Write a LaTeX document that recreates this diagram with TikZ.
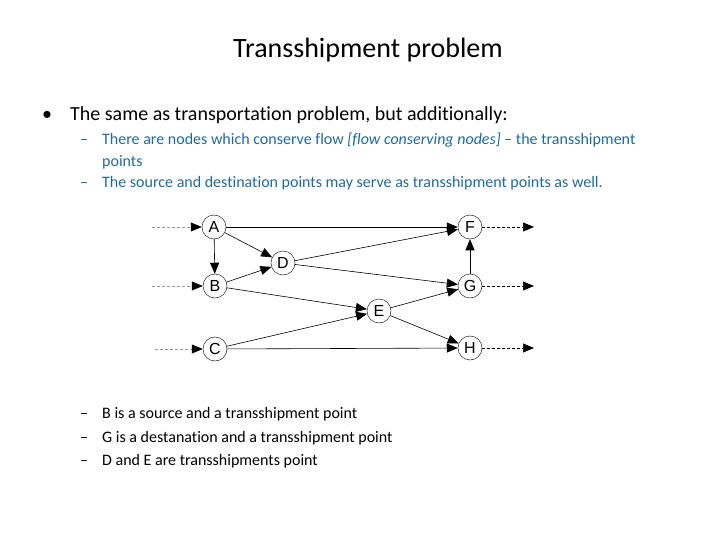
\documentclass[tikz,border=0pt]{standalone}
\usepackage{fontspec}
\setmainfont{Carlito}[Ligatures=NoCommon]
\newfontfamily\nodefont{Liberation Sans}
\usetikzlibrary{arrows.meta}
\definecolor{subblue}{RGB}{31,106,156}
\begin{document}
\begin{tikzpicture}[x=1pt,y=-1pt,
  nd/.style={circle,draw=black!85,line width=0.5pt,minimum size=24pt,inner sep=0pt,
    font=\nodefont\fontsize{16}{16}\selectfont},
  ar/.style={draw=black,line width=0.6pt,-{Triangle[length=11pt,width=9pt]}},
  inar/.style={draw=black!40,line width=0.6pt,dash pattern=on 3pt off 2pt,
    -{Triangle[length=11pt,width=9pt,color=black]}},
  outar/.style={draw=black,line width=0.6pt,dash pattern=on 3pt off 2pt,
    -{Triangle[length=11pt,width=9pt,color=black]}},
  txt/.style={anchor=base west,inner sep=0pt},
  ttl/.style={anchor=base,inner sep=0pt,font=\fontsize{28}{32}\selectfont},
  lone/.style={txt,font=\fontsize{20}{24}\selectfont},
  ltwo/.style={txt,font=\fontsize{16}{19}\selectfont},
]
\useasboundingbox (0,0) rectangle (720,540);

% text
\node[ttl] (title) at (368,58) {Transshipment problem};
\node[lone,anchor=base] (b1) at (47,121) {•};
\node[lone] (t1) at (70,121) {The same as transportation problem, but additionally:};
\node[ltwo,text=subblue] (d1) at (80,145) {–};
\node[ltwo,text=subblue] (t2) at (102,145) {There are nodes which conserve flow \textit{[flow conserving nodes]} – the transshipment};
\node[ltwo,text=subblue] (t2b) at (102,167) {points};
\node[ltwo,text=subblue] (d2) at (80,188) {–};
\node[ltwo,text=subblue] (t3) at (102,188) {The source and destination points may serve as transshipment points as well.};
\node[ltwo] (d3) at (80,418) {–};
\node[ltwo] (t4) at (102,418) {B is a source and a transshipment point};
\node[ltwo] (d4) at (80,442) {–};
\node[ltwo] (t5) at (102,442) {G is a destanation and a transshipment point};
\node[ltwo] (d5) at (80,465) {–};
\node[ltwo] (t6) at (102,465) {D and E are transshipments point};

% graph nodes
\node[nd] (A) at (214,227) {A};
\node[nd] (B) at (215,286) {B};
\node[nd] (C) at (215,349) {C};
\node[nd] (D) at (283,263) {D};
\node[nd] (E) at (379,311) {E};
\node[nd] (F) at (470,227) {F};
\node[nd] (G) at (470,286) {G};
\node[nd] (H) at (470,348) {H};

\coordinate (iA) at (152,227);
\coordinate (iB) at (152,286);
\coordinate (iC) at (155,349);
\coordinate (oF) at (534,227);
\coordinate (oG) at (534,286);
\coordinate (oH) at (534,348);

\draw[inar] (iA) -- (A);
\draw[inar] (iB) -- (B);
\draw[inar] (iC) -- (C);
\draw[outar] (F) -- (oF);
\draw[outar] (G) -- (oG);
\draw[outar] (H) -- (oH);

\draw[ar] (A) -- (F);
\draw[ar] (A) -- (D);
\draw[ar] (A) -- (B);
\draw[ar] (B) -- (D);
\draw[ar] (B) -- (E);
\draw[ar] (D) -- (F);
\draw[ar] (D) -- (G);
\draw[ar] (C) -- (E);
\draw[ar] (C) -- (H);
\draw[ar] (E) -- (G);
\draw[ar] (E) -- (H);
\draw[ar] (G) -- (F);
\end{tikzpicture}
\end{document}
